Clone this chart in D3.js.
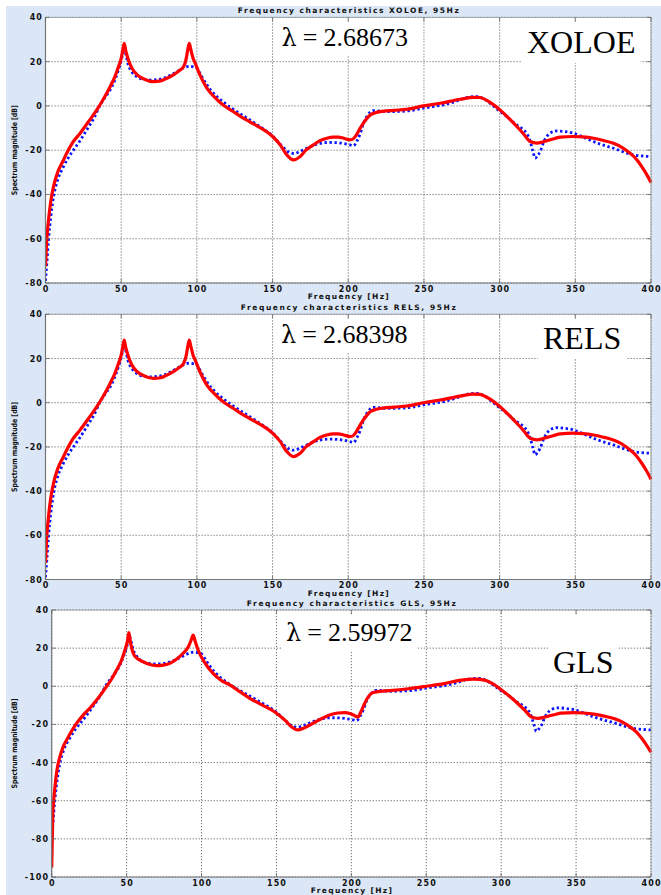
<!DOCTYPE html>
<html>
<head>
<meta charset="utf-8">
<script src="https://cdn.jsdelivr.net/npm/d3@7"></script>
<style>
  html, body { margin: 0; padding: 0; background: #fff; }
  svg { display: block; }
</style>
</head>
<body>
<svg id="chart" width="661" height="895"></svg>
<script>
// ---------------- DATA ----------------
// Reference (true) spectrum, blue dotted line, same in all three panels
const freqRef = [0,1,2,3.5,5.3,8,11.9,15,18.5,23,27.3,32,36.1,40,42.7,46,48.2,50,51,52,53,54.5,57,60.3,65,69.2,74,78,82,86.8,91,95,98,100,103,106.6,112,117.6,124,130.8,140,150,156,160,164,168,172.6,177,181.4,187,192.5,197,201.2,203.4,206,208,210,212.3,216.7,222,227.7,233,238.7,244,249.7,256,263,270,278.3,285,289,293.7,299,304.8,310,315.7,318,320.2,322,323.5,325,326.8,329,331.2,334,337.8,343,348.7,355,362,368,375.2,382,388.4,394,400];
const magRef  = [-79,-70,-60.5,-50,-41,-33.5,-27.4,-23.5,-19.9,-15.5,-10.8,-5.5,0.4,4.5,7.2,12,16.3,20.5,23.5,26,23.5,19,15.5,13.2,12,11.7,11.9,12.5,13.7,15.5,17.1,17.9,17.6,17,13.5,9.5,5,1.7,-1.5,-4.5,-8.6,-13.6,-18,-20.6,-21.5,-20.6,-19.1,-17.8,-16.9,-16.5,-16.6,-17,-17.6,-18,-15.5,-12.3,-8,-4.8,-2.1,-2.4,-2.6,-2.5,-2.3,-1.8,-1,-0.3,0.5,1.8,3.8,4.2,3.4,1.2,-1.8,-4.8,-8,-10.8,-12.5,-16,-20.5,-23.6,-22.5,-20.6,-16.5,-13.8,-12,-11.3,-11.6,-12.3,-14,-16.1,-17.6,-19.1,-20.8,-22.1,-22.6,-22.9];

// Model spectra (red solid line)
const freqXOLOE = [0,0.7,2,3.5,5.3,8,11.9,14,18,22.9,28,33.9,38,42.7,46,48.2,50,51,52,53,54.8,57,60.3,65,71.3,76,80.2,85,88.5,91.2,93,94,95,96,97.5,98.9,102,106.6,112,117.6,124,129,135,141.8,150,155,159.4,163.8,168.2,172,177,181,185.8,190,193.5,197,201.2,203,205,207.5,210,212.5,214.5,218,221,230,238.7,249.7,260.7,273.9,282.7,287,289.3,294,300.3,306,311.4,316,320.2,324.6,328,331.2,336,340,348.7,355,362,368,375.2,381,386.2,390,393.9,397,400];
const magXOLOE  = [-72.5,-62,-51.5,-43,-36.4,-30,-24.4,-21.4,-16.5,-12.3,-7.5,-1.8,2.8,8.7,13.5,17.7,21.5,25,28.3,25,20.8,17.2,14.2,12.2,11,11.3,12.5,14.3,16,17.7,21.5,25.5,28.3,25.5,21.5,19.3,14,8,3.8,0.3,-2.5,-4.8,-7.2,-9.8,-13.8,-17.5,-22.1,-24.4,-22.9,-20,-17.6,-15.8,-14.6,-14.1,-14.1,-14.6,-15.3,-15,-13.5,-10.5,-7.8,-5.5,-4.1,-3.1,-2.6,-2,-1.5,0,1.2,3,3.9,3.8,3.3,1.5,-1.8,-5.5,-9.3,-12.8,-16.1,-16.8,-16.4,-15.7,-14.8,-14.1,-13.8,-14,-14.6,-15.5,-16.9,-18.8,-21.4,-23.8,-27.4,-30.8,-34.6];

const freqRELS = [0,0.7,2,3.5,5.3,8,11.9,14,18,22.9,28,33.9,38,42.7,46,48.2,50,51,52,53,54.8,57,60.3,65,71.3,76,80.2,85,88.5,91.2,93,94,95,96,97.5,98.9,102,106.6,112,117.6,124,129,135,141.8,150,155,159.4,163.8,168.2,172,177,181,185.8,190,193.5,197,201.2,203,205,207.5,210,212.5,214.5,218,221,230,238.7,249.7,260.7,273.9,282.7,287,289.3,294,300.3,306,311.4,316,320.2,324.6,328,331.2,336,340,348.7,355,362,368,375.2,381,386.2,390,393.9,397,400];
const magRELS  = [-72.5,-62,-51.5,-43,-36.4,-30,-24.4,-21.4,-16.5,-12.3,-7.5,-1.8,2.8,8.7,13.5,17.7,21.5,25,28.3,25,20.8,17.2,14.2,12.2,11,11.3,12.5,14.3,16,17.7,21.5,25.5,28.3,25.5,21.5,19.3,14,8,3.8,0.3,-2.5,-4.8,-7.2,-9.8,-13.8,-17.5,-22.1,-24.4,-22.9,-20,-17.6,-15.8,-14.6,-14.1,-14.1,-14.6,-15.3,-15,-13.5,-10.5,-7.8,-5.5,-4.1,-3.1,-2.6,-2,-1.5,0,1.2,3,3.9,3.8,3.3,1.5,-1.8,-5.5,-9.3,-12.8,-16.1,-16.8,-16.4,-15.7,-14.8,-14.1,-13.8,-14,-14.6,-15.5,-16.9,-18.8,-21.4,-23.8,-27.4,-30.8,-34.6];

const freqGLS = [0,0.4,0.7,1.3,2.2,3.5,5.5,7.5,10,14.4,21.1,26,30,33.5,36.7,40,43.3,46.5,48.9,50.5,51.5,52.5,54.4,57,61,65,70,74.5,78.9,83,87.7,91,93,94.4,95.8,97.7,102,107.7,113,118.9,125.5,132.2,140,150,156,160,164.4,168,174.4,180,185.5,191,195.5,199,202,204.4,206,208,210,212,214.4,219,225.5,238,250,261,272.2,282,289,294,300,306,311.4,316,320.2,324.6,328,331.2,336,340,348.7,355,362,368,375.2,381,386.2,390,393.9,397,400];
const magGLS  = [-95,-80,-68,-60,-52.6,-44,-36.9,-32,-28.1,-22,-15,-11,-7.2,-3.6,0,3.8,8.5,13.5,19,23.5,28.1,23.5,17.3,14.6,12.9,11.5,10.8,11.1,12,14,17.3,20.5,24,26.9,23.5,19,12.5,6.8,3.2,0.7,-2.8,-6.3,-9.6,-14.1,-18,-21.2,-22.9,-22,-19.4,-17,-15,-14,-13.8,-14.3,-15.3,-16.2,-14,-10.5,-7.2,-4.8,-3.3,-2.7,-2.3,-1.3,0,1.3,3.1,3.8,3.2,1.5,-1.8,-5.5,-9.3,-12.8,-16.1,-16.8,-16.4,-15.7,-14.8,-14.1,-13.8,-14,-14.6,-15.5,-16.9,-18.8,-21.4,-23.8,-27.4,-30.8,-34.6];

const xTickValues = [0,50,100,150,200,250,300,350,400];
const yTicksTop = [40,20,0,-20,-40,-60,-80];
const yTicksGLS = [40,20,0,-20,-40,-60,-80,-100];
const panelTitles = ["Frequency characteristics XOLOE, 95Hz","Frequency characteristics RELS, 95Hz","Frequency characteristics GLS, 95Hz"];
const lambdaSymbol = "\u03bb";
const lambdaValues = ["2.68673","2.68398","2.59972"];
const methodLabels = ["XOLOE","RELS","GLS"];
const xLabel = "Frequency [Hz]";
const yLabel = "Spectrum magnitude [dB]";

// ---------------- LAYOUT ----------------
const panels = [
  {left:45.5, right:651, top:17.4, bottom:283, yDomain:[-80,40], yTicks:yTicksTop, freq:freqXOLOE, mag:magXOLOE,
   lam:{x:281.5, y:46}, meth:{x:527, y:53}, titleW:221},
  {left:45.5, right:651, top:314.3, bottom:579.5, yDomain:[-80,40], yTicks:yTicksTop, freq:freqRELS, mag:magRELS,
   lam:{x:281, y:343}, meth:{x:543, y:349}, titleW:215},
  {left:51.7, right:651, top:610, bottom:877, yDomain:[-100,40], yTicks:yTicksGLS, freq:freqGLS, mag:magGLS,
   lam:{x:286, y:641}, meth:{x:553, y:673}, titleW:209}
];

const svg = d3.select("#chart");
svg.append("rect").attr("x",0).attr("y",0).attr("width",661).attr("height",895).attr("fill","#fff");
svg.append("rect").attr("x",6).attr("y",6).attr("width",655).attr("height",889).attr("fill","#dbe7f6");

const smallFont = "'DejaVu Sans', 'Liberation Sans', Arial, sans-serif";
const serif = "'Liberation Serif', 'Times New Roman', Times, serif";

panels.forEach((p, i) => {
  const x = d3.scaleLinear().domain([0,400]).range([p.left, p.right]);
  const y = d3.scaleLinear().domain(p.yDomain).range([p.bottom, p.top]);
  const g = svg.append("g");
  const w = p.right - p.left, h = p.bottom - p.top;

  g.append("rect").attr("x",p.left).attr("y",p.top).attr("width",w).attr("height",h).attr("fill","#fff");

  // grid
  const grid = g.append("g").attr("stroke","#4a4a4a").attr("stroke-width",0.8).attr("stroke-dasharray","1.2,1.8");
  xTickValues.forEach(t => {
    grid.append("line").attr("x1",x(t)).attr("x2",x(t)).attr("y1",p.top).attr("y2",p.bottom);
  });
  p.yTicks.forEach(t => {
    grid.append("line").attr("x1",p.left).attr("x2",p.right).attr("y1",y(t)).attr("y2",y(t));
  });

  // white annotation boxes + texts
  const lamText = g.append("text").attr("x",p.lam.x).attr("y",p.lam.y)
    .attr("font-family",serif).attr("font-size",26).attr("fill","#000");
  lamText.append("tspan").attr("font-family","'DejaVu Serif', 'Liberation Serif', serif").attr("font-size",24).text(lambdaSymbol);
  lamText.append("tspan").attr("dx",6).text("=");
  lamText.append("tspan").attr("dx",6).text(lambdaValues[i]);
  const methText = g.append("text").attr("x",p.meth.x).attr("y",p.meth.y)
    .attr("font-family",serif).attr("font-size",32).attr("fill","#000").text(methodLabels[i]);
  [lamText, methText].forEach(t => {
    const bb = t.node().getBBox();
    g.insert("rect", () => t.node())
      .attr("x", bb.x - 5).attr("y", p.top + 5)
      .attr("width", bb.width + 10).attr("height", bb.y + bb.height - p.top - 2)
      .attr("fill","#fff");
  });

  // clip
  const clipId = "clip" + i;
  svg.append("clipPath").attr("id",clipId).append("rect")
    .attr("x",p.left).attr("y",p.top-2).attr("width",w+2).attr("height",h+2);

  const line = d3.line().x(d => x(d[0])).y(d => y(d[1])).curve(d3.curveMonotoneX);
  const refData = freqRef.map((f,k) => [f, magRef[k]]);
  const modData = p.freq.map((f,k) => [f, p.mag[k]]);

  const plot = g.append("g").attr("clip-path",`url(#${clipId})`);
  plot.append("path").attr("d",line(refData)).attr("fill","none")
    .attr("stroke","#0a14ff").attr("stroke-width",2.8).attr("stroke-dasharray","2.4,2.6");
  plot.append("path").attr("d",line(modData)).attr("fill","none")
    .attr("stroke","#ff0000").attr("stroke-width",3.2).attr("stroke-linejoin","round");

  // box / axes
  g.append("line").attr("x1",p.left).attr("x2",p.right).attr("y1",p.top).attr("y2",p.top).attr("stroke","#9a9a9a").attr("stroke-width",0.8);
  g.append("line").attr("x1",p.right).attr("x2",p.right).attr("y1",p.top).attr("y2",p.bottom).attr("stroke","#9a9a9a").attr("stroke-width",0.8);
  g.append("line").attr("x1",p.left).attr("x2",p.right).attr("y1",p.bottom).attr("y2",p.bottom).attr("stroke","#777").attr("stroke-width",1.2);
  g.append("line").attr("x1",p.left).attr("x2",p.left).attr("y1",p.top).attr("y2",p.bottom).attr("stroke","#777").attr("stroke-width",1.2);

  // ticks inward
  const tk = g.append("g").attr("stroke","#666").attr("stroke-width",0.8);
  xTickValues.forEach(t => {
    tk.append("line").attr("x1",x(t)).attr("x2",x(t)).attr("y1",p.bottom).attr("y2",p.bottom-4);
    tk.append("line").attr("x1",x(t)).attr("x2",x(t)).attr("y1",p.top).attr("y2",p.top+4);
  });
  p.yTicks.forEach(t => {
    tk.append("line").attr("x1",p.left).attr("x2",p.left+4).attr("y1",y(t)).attr("y2",y(t));
    tk.append("line").attr("x1",p.right).attr("x2",p.right-4).attr("y1",y(t)).attr("y2",y(t));
  });

  // tick labels
  const lab = g.append("g").attr("font-family",smallFont).attr("font-weight","bold")
    .attr("font-size",8).attr("fill","#111").attr("letter-spacing",1.1);
  xTickValues.forEach(t => {
    lab.append("text").attr("x",x(t)+0.6).attr("y",p.bottom+8.5).attr("text-anchor","middle").text(t);
  });
  p.yTicks.forEach(t => {
    lab.append("text").attr("x",p.left-2.5).attr("y",y(t)+3).attr("text-anchor","end").text(t);
  });

  // title, axis labels
  g.append("text").attr("x",(p.left+p.right)/2).attr("y",p.top-4).attr("text-anchor","middle")
    .attr("font-family",smallFont).attr("font-weight","bold").attr("font-size",7.5).attr("fill","#111")
    .attr("textLength",p.titleW).attr("lengthAdjust","spacing").text(panelTitles[i]);
  g.append("text").attr("x",(p.left+p.right)/2).attr("y",p.bottom+16).attr("text-anchor","middle")
    .attr("font-family",smallFont).attr("font-weight","bold").attr("font-size",7.5).attr("fill","#111")
    .attr("textLength",81).attr("lengthAdjust","spacing").text(xLabel);
  g.append("text").attr("transform",`translate(17,${(p.top+p.bottom)/2}) rotate(-90)`).attr("text-anchor","middle")
    .attr("font-family",smallFont).attr("font-weight","bold").attr("font-size",7.5).attr("fill","#111")
    .attr("textLength",90).attr("lengthAdjust","spacingAndGlyphs").text(yLabel);
});
</script>
</body>
</html>
